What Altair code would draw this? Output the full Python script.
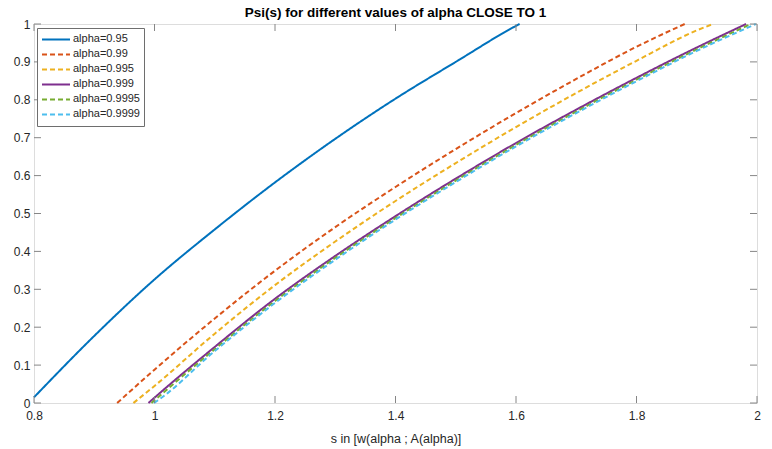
import altair as alt
import pandas as pd

# Psi(s) curves, one per alpha
series = ["alpha=0.95", "alpha=0.99", "alpha=0.995", "alpha=0.999", "alpha=0.9995", "alpha=0.9999"]
colors = ["#0072BD", "#D95319", "#EDB120", "#7E2F8E", "#77AC30", "#4DBEEE"]
dashes = [[1, 0], [5, 3], [5, 3], [1, 0], [5, 3], [5, 3]]

s_095 = [0.8, 0.9, 1.0, 1.1, 1.2, 1.3, 1.4, 1.5, 1.6, 1.606]
psi_095 = [0.015, 0.177, 0.326, 0.458, 0.582, 0.697, 0.803, 0.900, 0.995, 1.0]

s_099 = [0.938, 1.0, 1.1, 1.2, 1.3, 1.4, 1.5, 1.6, 1.7, 1.8, 1.88]
psi_099 = [0.0, 0.088, 0.223, 0.349, 0.464, 0.570, 0.670, 0.765, 0.855, 0.940, 1.0]

s_0995 = [0.965, 1.0, 1.1, 1.2, 1.3, 1.4, 1.5, 1.6, 1.7, 1.8, 1.9, 1.927]
psi_0995 = [0.0, 0.045, 0.183, 0.311, 0.426, 0.533, 0.633, 0.728, 0.818, 0.903, 0.983, 1.0]

s_0999 = [0.99, 1.0, 1.1, 1.2, 1.3, 1.4, 1.5, 1.6, 1.7, 1.8, 1.9, 1.982]
psi_0999 = [0.0, 0.014, 0.148, 0.275, 0.388, 0.493, 0.592, 0.686, 0.774, 0.858, 0.938, 1.0]

s_09995 = [0.995, 1.0, 1.1, 1.2, 1.3, 1.4, 1.5, 1.6, 1.7, 1.8, 1.9, 1.99]
psi_09995 = [0.0, 0.007, 0.142, 0.269, 0.383, 0.488, 0.587, 0.681, 0.769, 0.853, 0.933, 1.0]

s_09999 = [0.999, 1.0, 1.1, 1.2, 1.3, 1.4, 1.5, 1.6, 1.7, 1.8, 1.9, 1.998]
psi_09999 = [0.0, 0.001, 0.137, 0.264, 0.378, 0.484, 0.583, 0.677, 0.765, 0.849, 0.929, 1.0]

x_ticks = [0.8, 1.0, 1.2, 1.4, 1.6, 1.8, 2.0]
y_ticks = [0.0, 0.1, 0.2, 0.3, 0.4, 0.5, 0.6, 0.7, 0.8, 0.9, 1.0]

curves = [
    (series[0], s_095, psi_095),
    (series[1], s_099, psi_099),
    (series[2], s_0995, psi_0995),
    (series[3], s_0999, psi_0999),
    (series[4], s_09995, psi_09995),
    (series[5], s_09999, psi_09999),
]
rows = []
for order, (name, xs, ys) in enumerate(curves):
    for x, y in zip(xs, ys):
        rows.append({"series": name, "s": x, "psi": y, "k": order})
df = pd.DataFrame(rows)

FONT = "Liberation Sans"
TXT = "#262626"
BOX = "#868686"
W, H = 723, 379
TICK = 7

x_scale = alt.Scale(domain=[0.8, 2.0], nice=False, zero=False)
y_scale = alt.Scale(domain=[0, 1], nice=False, zero=False)

x_axis = alt.Axis(
    values=x_ticks, format="~g", title="s in [w(alpha ; A(alpha)]",
    titleFont=FONT, titleFontSize=12.5, titleFontWeight="normal", titleColor=TXT,
    titlePadding=11, labelFont=FONT, labelFontSize=12, labelColor=TXT,
    labelPadding=7, labelFlush=False, labelOverlap=False,
    ticks=False, domain=False, grid=False)
y_axis = alt.Axis(
    values=y_ticks, format="~g", title=None,
    labelFont=FONT, labelFontSize=12, labelColor=TXT,
    labelPadding=4, labelFlush=False, labelOverlap=False,
    ticks=False, domain=False, grid=False)

legend = alt.Legend(
    title=None, orient="none", legendX=3, legendY=4,
    symbolType="stroke", symbolSize=784, symbolStrokeWidth=2,
    clipHeight=14.8, rowPadding=0, padding=4,
    labelFont=FONT, labelFontSize=11, labelColor=TXT, labelOffset=2,
    strokeColor="#6e6e6e", fillColor="white", labelLimit=200,
)

lines = alt.Chart(df).mark_line(strokeWidth=2, interpolate="monotone").encode(
    x=alt.X("s:Q", scale=x_scale, axis=x_axis),
    y=alt.Y("psi:Q", scale=y_scale, axis=y_axis),
    color=alt.Color("series:N", scale=alt.Scale(domain=series, range=colors), legend=legend),
    strokeDash=alt.StrokeDash("series:N", scale=alt.Scale(domain=series, range=dashes), legend=legend),
    order=alt.Order("k:Q"),
    detail="series:N",
)

xt = pd.DataFrame({"v": x_ticks})
yt = pd.DataFrame({"v": y_ticks})

# inward ticks on all four sides of the box
tick_bottom = alt.Chart(xt).mark_rule(color=BOX, strokeWidth=1).encode(
    x=alt.X("v:Q", scale=x_scale, axis=x_axis), y=alt.value(H), y2=alt.value(H - TICK))
tick_top = alt.Chart(xt).mark_rule(color=BOX, strokeWidth=1).encode(
    x=alt.X("v:Q", scale=x_scale, axis=x_axis), y=alt.value(0), y2=alt.value(TICK))
tick_left = alt.Chart(yt).mark_rule(color=BOX, strokeWidth=1).encode(
    y=alt.Y("v:Q", scale=y_scale, axis=y_axis), x=alt.value(0), x2=alt.value(TICK))
tick_right = alt.Chart(yt).mark_rule(color=BOX, strokeWidth=1).encode(
    y=alt.Y("v:Q", scale=y_scale, axis=y_axis), x=alt.value(W), x2=alt.value(W - TICK))

chart = alt.layer(lines, tick_bottom, tick_top, tick_left, tick_right).properties(
    width=W, height=H,
    title=alt.TitleParams("Psi(s) for different values of alpha CLOSE TO 1",
                          font=FONT, fontSize=13.5, fontWeight="bold", color="#000000",
                          anchor="middle", frame="group", offset=6, dy=7.5),
    autosize=alt.AutoSizeParams(type="none"),
    padding={"left": 34, "top": 24, "right": 15, "bottom": 46},
).configure_view(stroke=BOX, strokeWidth=1).configure(background="white")

chart.save("out.html", embed_options={"renderer": "svg", "actions": False})
